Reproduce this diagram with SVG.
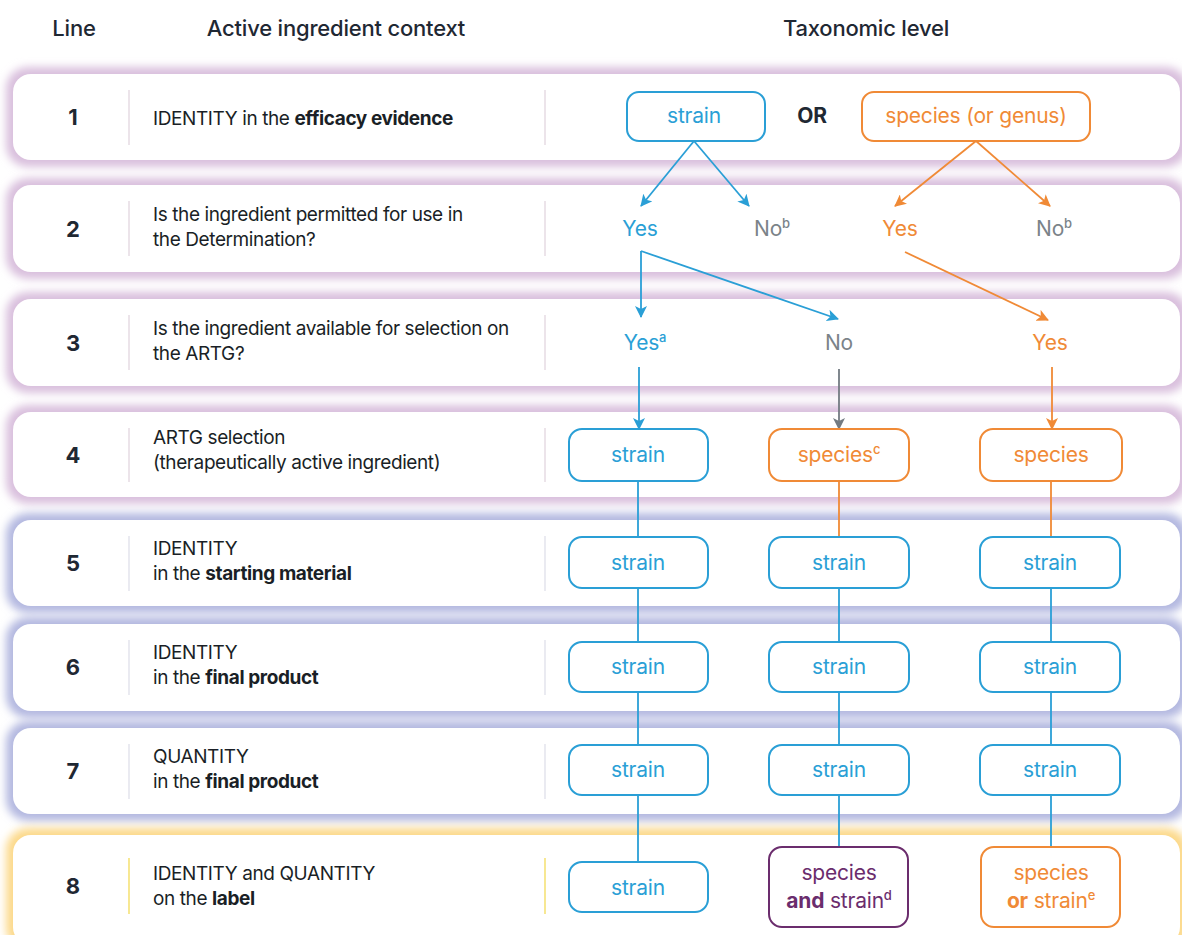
<svg xmlns="http://www.w3.org/2000/svg" width="1182" height="935" viewBox="0 0 1182 935">
<defs>
<style>
.hdr{font-family:Inter,"Liberation Sans",sans-serif;font-size:22px;font-weight:500;fill:#1f2833;text-anchor:middle;letter-spacing:-0.2px}
.num{font-family:Inter,"Liberation Sans",sans-serif;font-size:22px;font-weight:700;fill:#1f2833;text-anchor:middle}
.lt{font-family:Inter,"Liberation Sans",sans-serif;font-size:19px;fill:#1a1f26;letter-spacing:-0.4px}
.b{font-weight:700}
.card{fill:#ffffff}
.glow{filter:url(#blur)}
.gp{fill:#d9bfdd}
.gb{fill:#b3b8e0}
.gy{fill:#fcd98a}
.dv{stroke:#e0d2dc;stroke-width:1.2}
.dvb{stroke:#dcdde8;stroke-width:1.2}
.dvy{stroke:#f2d84a;stroke-width:1.2}
.bx{fill:#ffffff;stroke-width:2}
.bl{stroke:#2a9fd6}
.or{stroke:#f08a36}
.pu{stroke:#6b2d6d}
.t{font-family:Inter,"Liberation Sans",sans-serif;font-size:21px;text-anchor:middle;letter-spacing:-0.2px}
.tb{fill:#2a9fd6}
.to{fill:#f08a36}
.tg{fill:#7b8389}
.tp{fill:#6b2d6d}
.tk{fill:#1f2833;font-weight:700}
.sup{font-size:13px;font-weight:500}
.c{fill:none;stroke-width:1.8}
.cb{stroke:#2a9fd6}
.co{stroke:#f08a36}
.cg{stroke:#737b82}
</style>
<filter id="blur" x="-5%" y="-30%" width="110%" height="160%"><feGaussianBlur stdDeviation="4.5"/></filter>
<marker id="ab" viewBox="0 0 12 12" refX="11" refY="6" markerWidth="12" markerHeight="12" markerUnits="userSpaceOnUse" orient="auto"><path d="M0,0 L12,6 L0,12 L3,6 z" fill="#2a9fd6"/></marker>
<marker id="ao" viewBox="0 0 12 12" refX="11" refY="6" markerWidth="12" markerHeight="12" markerUnits="userSpaceOnUse" orient="auto"><path d="M0,0 L12,6 L0,12 L3,6 z" fill="#f08a36"/></marker>
<marker id="ag" viewBox="0 0 12 12" refX="11" refY="6" markerWidth="12" markerHeight="12" markerUnits="userSpaceOnUse" orient="auto"><path d="M0,0 L12,6 L0,12 L3,6 z" fill="#737b82"/></marker>
</defs>
<rect width="1182" height="935" fill="#ffffff"/>

<g id="header">
<text class="hdr" x="74" y="36">Line</text>
<text class="hdr" x="336" y="36">Active ingredient context</text>
<text class="hdr" x="866" y="36">Taxonomic level</text>
</g>

<g id="glows">
<rect class="glow gp" x="6" y="67" width="1182" height="100" rx="22"/>
<rect class="glow gp" x="6" y="178" width="1182" height="101" rx="22"/>
<rect class="glow gp" x="6" y="292" width="1182" height="101" rx="22"/>
<rect class="glow gp" x="6" y="405" width="1182" height="99" rx="22"/>
<rect class="glow gb" x="6" y="513" width="1182" height="100" rx="22"/>
<rect class="glow gb" x="6" y="617" width="1182" height="101" rx="22"/>
<rect class="glow gb" x="6" y="721" width="1182" height="100" rx="22"/>
<rect class="glow gy" x="6" y="828" width="1182" height="122" rx="22"/>
</g>

<g id="row1">
<rect class="card" x="13" y="74" width="1167" height="86" rx="18"/>
<line class="dv" x1="129" y1="90" x2="129" y2="145"/>
<line class="dv" x1="545" y1="90" x2="545" y2="145"/>
<text class="num" x="73" y="125">1</text>
<text class="lt" x="153" y="125">IDENTITY in the <tspan class="b">efficacy evidence</tspan></text>
</g>
<g id="row2">
<rect class="card" x="13" y="185" width="1167" height="87" rx="18"/>
<line class="dv" x1="129" y1="201" x2="129" y2="256"/>
<line class="dv" x1="545" y1="201" x2="545" y2="256"/>
<text class="num" x="73" y="237">2</text>
<text class="lt" x="153" y="221">Is the ingredient permitted for use in</text>
<text class="lt" x="153" y="246">the Determination?</text>
</g>
<g id="row3">
<rect class="card" x="13" y="299" width="1167" height="87" rx="18"/>
<line class="dv" x1="129" y1="315" x2="129" y2="370"/>
<line class="dv" x1="545" y1="315" x2="545" y2="370"/>
<text class="num" x="73" y="351">3</text>
<text class="lt" x="153" y="335">Is the ingredient available for selection on</text>
<text class="lt" x="153" y="360">the ARTG?</text>
</g>
<g id="row4">
<rect class="card" x="13" y="412" width="1167" height="85" rx="18"/>
<line class="dv" x1="129" y1="428" x2="129" y2="482"/>
<line class="dv" x1="545" y1="428" x2="545" y2="482"/>
<text class="num" x="73" y="463">4</text>
<text class="lt" x="153" y="444">ARTG selection</text>
<text class="lt" x="153" y="469">(therapeutically active ingredient)</text>
</g>
<g id="row5">
<rect class="card" x="13" y="520" width="1167" height="86" rx="18"/>
<line class="dvb" x1="129" y1="536" x2="129" y2="591"/>
<line class="dvb" x1="545" y1="536" x2="545" y2="591"/>
<text class="num" x="73" y="571">5</text>
<text class="lt" x="153" y="555">IDENTITY</text>
<text class="lt" x="153" y="580">in the <tspan class="b">starting material</tspan></text>
</g>
<g id="row6">
<rect class="card" x="13" y="624" width="1167" height="87" rx="18"/>
<line class="dvb" x1="129" y1="640" x2="129" y2="695"/>
<line class="dvb" x1="545" y1="640" x2="545" y2="695"/>
<text class="num" x="73" y="675">6</text>
<text class="lt" x="153" y="659">IDENTITY</text>
<text class="lt" x="153" y="684">in the <tspan class="b">final product</tspan></text>
</g>
<g id="row7">
<rect class="card" x="13" y="728" width="1167" height="86" rx="18"/>
<line class="dvb" x1="129" y1="744" x2="129" y2="799"/>
<line class="dvb" x1="545" y1="744" x2="545" y2="799"/>
<text class="num" x="73" y="779">7</text>
<text class="lt" x="153" y="763">QUANTITY</text>
<text class="lt" x="153" y="788">in the <tspan class="b">final product</tspan></text>
</g>
<g id="row8">
<rect class="card" x="13" y="835" width="1167" height="110" rx="18"/>
<line class="dvy" x1="129" y1="858" x2="129" y2="914"/>
<line class="dvy" x1="545" y1="858" x2="545" y2="914"/>
<text class="num" x="73" y="894">8</text>
<text class="lt" x="153" y="880">IDENTITY and QUANTITY</text>
<text class="lt" x="153" y="905">on the <tspan class="b">label</tspan></text>
</g>

<g id="connectors">
<line class="c cb" x1="694" y1="141" x2="641" y2="206" marker-end="url(#ab)"/>
<line class="c cb" x1="694" y1="141" x2="749" y2="206" marker-end="url(#ab)"/>
<line class="c co" x1="976" y1="141" x2="895" y2="206" marker-end="url(#ao)"/>
<line class="c co" x1="976" y1="141" x2="1050" y2="206" marker-end="url(#ao)"/>
<line class="c cb" x1="641" y1="251" x2="641" y2="317" marker-end="url(#ab)"/>
<line class="c cb" x1="641" y1="251" x2="838" y2="319" marker-end="url(#ab)"/>
<line class="c co" x1="905" y1="252" x2="1048" y2="320" marker-end="url(#ao)"/>
<line class="c cb" x1="639" y1="367" x2="639" y2="429" marker-end="url(#ab)"/>
<line class="c cg" x1="839" y1="369" x2="839" y2="429" marker-end="url(#ag)"/>
<line class="c co" x1="1052" y1="367" x2="1052" y2="429" marker-end="url(#ao)"/>
<line class="c cb" x1="638" y1="481" x2="638" y2="537"/>
<line class="c cb" x1="638" y1="588" x2="638" y2="642"/>
<line class="c cb" x1="638" y1="692" x2="638" y2="745"/>
<line class="c cb" x1="638" y1="795" x2="638" y2="862"/>
<line class="c co" x1="839" y1="481" x2="839" y2="537"/>
<line class="c cb" x1="839" y1="588" x2="839" y2="642"/>
<line class="c cb" x1="839" y1="692" x2="839" y2="745"/>
<line class="c cb" x1="839" y1="795" x2="839" y2="847"/>
<line class="c co" x1="1051" y1="481" x2="1051" y2="537"/>
<line class="c cb" x1="1051" y1="588" x2="1051" y2="642"/>
<line class="c cb" x1="1051" y1="692" x2="1051" y2="745"/>
<line class="c cb" x1="1051" y1="795" x2="1051" y2="847"/>
</g>

<g id="n1-strain"><rect class="bx bl" x="627" y="92" width="138" height="49" rx="12"/><text class="t tb" x="694" y="123">strain</text></g>
<g id="n1-or"><text class="t tk" x="812" y="123">OR</text></g>
<g id="n1-species"><rect class="bx or" x="862" y="92" width="228" height="49" rx="12"/><text class="t to" x="976" y="123">species (or genus)</text></g>

<g id="n2-yes-b"><text class="t tb" x="640" y="236">Yes</text></g>
<g id="n2-no-b"><text class="t tg" x="772" y="236">No<tspan class="sup" dy="-8">b</tspan></text></g>
<g id="n2-yes-o"><text class="t to" x="900" y="236">Yes</text></g>
<g id="n2-no-o"><text class="t tg" x="1054" y="236">No<tspan class="sup" dy="-8">b</tspan></text></g>

<g id="n3-yes-b"><text class="t tb" x="645" y="350">Yes<tspan class="sup" dy="-8">a</tspan></text></g>
<g id="n3-no"><text class="t tg" x="839" y="350">No</text></g>
<g id="n3-yes-o"><text class="t to" x="1050" y="350">Yes</text></g>

<g id="n4-strain"><rect class="bx bl" x="569" y="429" width="139" height="52" rx="13"/><text class="t tb" x="638" y="462">strain</text></g>
<g id="n4-species-c"><rect class="bx or" x="769" y="429" width="140" height="52" rx="13"/><text class="t to" x="839" y="462">species<tspan class="sup" dy="-8">c</tspan></text></g>
<g id="n4-species"><rect class="bx or" x="980" y="429" width="142" height="52" rx="13"/><text class="t to" x="1051" y="462">species</text></g>

<g id="n5-strain-1"><rect class="bx bl" x="569" y="537" width="139" height="51" rx="13"/><text class="t tb" x="638" y="570">strain</text></g>
<g id="n5-strain-2"><rect class="bx bl" x="769" y="537" width="140" height="51" rx="13"/><text class="t tb" x="839" y="570">strain</text></g>
<g id="n5-strain-3"><rect class="bx bl" x="980" y="537" width="140" height="51" rx="13"/><text class="t tb" x="1050" y="570">strain</text></g>

<g id="n6-strain-1"><rect class="bx bl" x="569" y="642" width="139" height="50" rx="13"/><text class="t tb" x="638" y="674">strain</text></g>
<g id="n6-strain-2"><rect class="bx bl" x="769" y="642" width="140" height="50" rx="13"/><text class="t tb" x="839" y="674">strain</text></g>
<g id="n6-strain-3"><rect class="bx bl" x="980" y="642" width="140" height="50" rx="13"/><text class="t tb" x="1050" y="674">strain</text></g>

<g id="n7-strain-1"><rect class="bx bl" x="569" y="745" width="139" height="50" rx="13"/><text class="t tb" x="638" y="777">strain</text></g>
<g id="n7-strain-2"><rect class="bx bl" x="769" y="745" width="140" height="50" rx="13"/><text class="t tb" x="839" y="777">strain</text></g>
<g id="n7-strain-3"><rect class="bx bl" x="980" y="745" width="140" height="50" rx="13"/><text class="t tb" x="1050" y="777">strain</text></g>

<g id="n8-strain"><rect class="bx bl" x="569" y="862" width="139" height="50" rx="13"/><text class="t tb" x="638" y="895">strain</text></g>
<g id="n8-species-and-strain"><rect class="bx pu" x="769" y="847" width="139" height="80" rx="13"/><text class="t tp" x="839" y="880">species</text><text class="t tp" x="839" y="908"><tspan font-weight="700">and</tspan> strain<tspan class="sup" dy="-8">d</tspan></text></g>
<g id="n8-species-or-strain"><rect class="bx or" x="981" y="847" width="139" height="80" rx="13"/><text class="t to" x="1051" y="880">species</text><text class="t to" x="1051" y="908"><tspan font-weight="700">or</tspan> strain<tspan class="sup" dy="-8">e</tspan></text></g>
</svg>
